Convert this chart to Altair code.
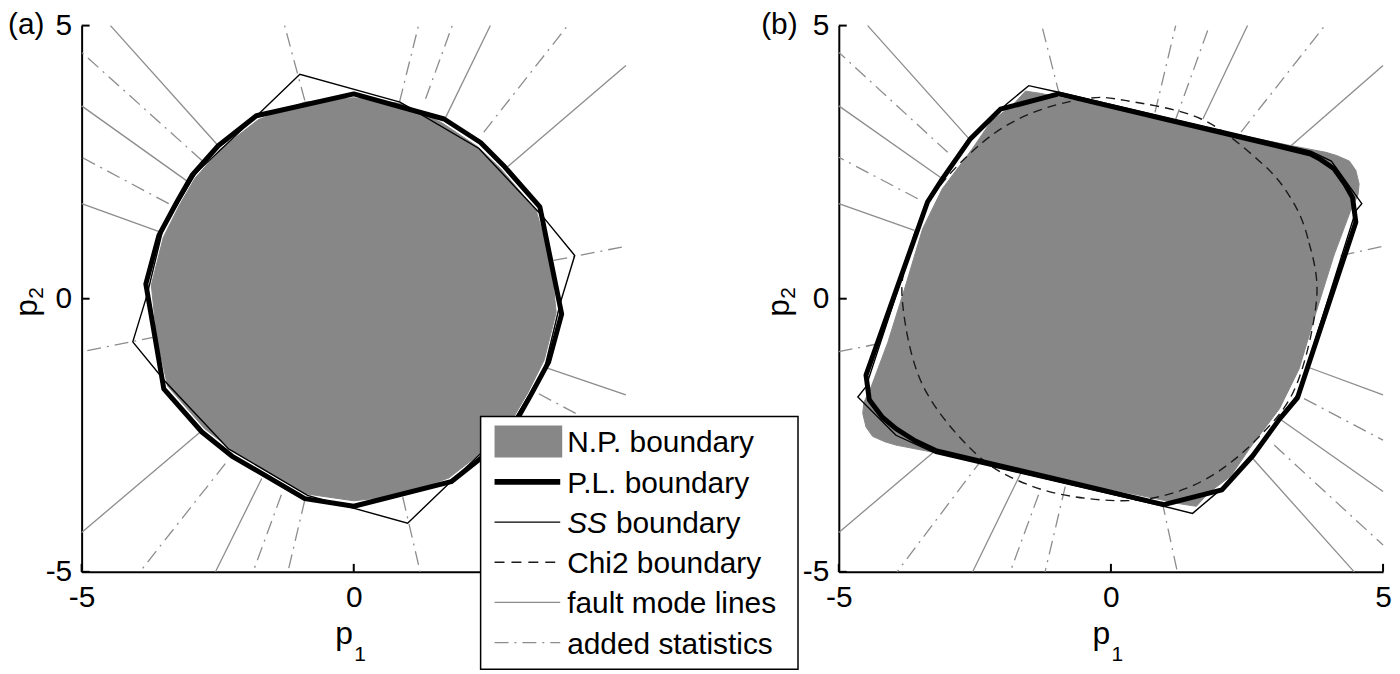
import altair as alt
import pandas as pd

# ------------------------------------------------------------------ data
AXIS_TICKS = [-5, 0, 5]

# fault mode lines (solid grey): outer end, inner end in panel (a) and (b)
FAULT_OUT_X = [-4.47, -5.0, -5.0, 2.51, 5.0, 4.47, 5.0, 5.0, -2.54, -5.0]
FAULT_OUT_Y = [5.0, 3.53, 1.74, 5.0, 4.27, -5.0, -3.53, -1.76, -5.0, -4.28]
FAULT_IN_A_X = [-2.49, -3.03, -3.55, 1.66, 2.82, 2.49, 3.03, 3.53, -1.69, -2.82]
FAULT_IN_A_Y = [2.80, 2.13, 1.22, 3.26, 2.41, -2.80, -2.13, -1.26, -3.29, -2.44]
FAULT_IN_B_X = [-2.61, -3.13, -3.61, 1.69, 3.24, 2.61, 3.13, 3.61, -1.63, -3.25]
FAULT_IN_B_Y = [2.93, 2.22, 1.25, 3.29, 2.74, -2.93, -2.22, -1.25, -3.14, -2.80]

# added statistics (grey dash-dot)
ADDED_OUT_X = [-5.0, -5.0, -5.0, -1.27, 1.19, 1.81, 3.93, 5.0, 1.22, -1.21, -1.85, -3.93, 5.0, 5.0]
ADDED_OUT_Y = [4.51, 2.59, -0.97, 5.0, 5.0, 5.0, 5.0, 0.96, -5.0, -5.0, -5.0, -5.0, -4.51, -2.59]
ADDED_IN_A_X = [-2.79, -3.40, -3.64, -0.90, 0.84, 1.32, 2.39, 3.67, 0.90, -0.90, -1.33, -2.36, 2.79, 3.40]
ADDED_IN_A_Y = [2.53, 1.74, -0.70, 3.63, 3.60, 3.66, 3.05, 0.70, -3.63, -3.69, -3.59, -3.02, -2.53, -1.74]
ADDED_IN_B_X = [-3.00, -3.55, -4.25, -0.94, 0.81, 1.17, 2.39, 4.22, 0.94, -0.84, -1.33, -2.36, 3.00, 3.55]
ADDED_IN_B_Y = [2.68, 1.83, -0.82, 3.71, 3.41, 3.23, 3.05, 0.79, -3.71, -3.44, -3.59, -2.93, -2.68, -1.83]

# panel (a) boundaries
NP_A_X = [0.0, -0.9, -1.75, -2.45, -2.92, -3.2, -3.5, -3.72, -3.62, -3.42, -2.74, -2.2, -0.9, 0.0,
          0.9, 1.75, 2.45, 2.92, 3.2, 3.5, 3.72, 3.62, 3.35, 2.7, 2.28, 1.62, 0.9]
NP_A_Y = [3.68, 3.6, 3.28, 2.74, 2.2, 1.72, 1.12, 0.25, -0.7, -1.6, -2.38, -2.8, -3.57, -3.7,
          -3.6, -3.28, -2.74, -2.2, -1.72, -1.12, -0.25, 0.7, 1.62, 2.38, 2.78, 3.22, 3.57]
PL_A_X = [0.0, -1.79, -2.49, -2.97, -3.25, -3.58, -3.82, -3.49, -2.79, -2.24, -0.90, 0.0,
          1.79, 2.49, 2.97, 3.25, 3.58, 3.82, 3.42, 2.75, 2.33, 1.66]
PL_A_Y = [3.75, 3.35, 2.80, 2.26, 1.77, 1.16, 0.27, -1.65, -2.44, -2.88, -3.66, -3.80,
          -3.35, -2.80, -2.26, -1.77, -1.16, -0.28, 1.68, 2.44, 2.86, 3.29]
SS_A_X = [4.06, 3.46, 2.30, 0.85, -0.99, -1.72, -2.90, -3.50, -3.80,
          -4.06, -3.46, -2.30, -0.85, 0.99, 1.72, 2.90, 3.50, 3.80]
SS_A_Y = [0.79, 1.52, 2.75, 3.60, 4.11, 3.41, 2.30, 1.30, 0.06,
          -0.79, -1.52, -2.75, -3.60, -4.11, -3.41, -2.30, -1.30, -0.06]

# panel (b) boundaries
NP_B_X = [-1.57, -1.8, -2.2, -2.55, -3.10, -3.46, -3.77, -4.1, -4.4, -4.54, -4.56, -4.5, -4.38, -4.15,
          -3.95, -3.22, 1.3, 1.57, 1.8, 2.2, 2.55, 3.10, 3.46, 3.77, 4.1, 4.4, 4.54, 4.56, 4.5, 4.38,
          4.15, 3.95, 3.22, -1.3]
NP_B_Y = [3.80, 3.55, 3.25, 2.74, 2.01, 1.28, 0.25, -0.8, -1.6, -1.9, -2.1, -2.35, -2.52, -2.62,
          -2.68, -2.82, -3.76, -3.80, -3.55, -3.25, -2.74, -2.01, -1.28, -0.25, 0.8, 1.6, 1.9, 2.1,
          2.35, 2.52, 2.62, 2.68, 2.82, 3.76]
PL_B_X = [-0.96, -2.03, -2.58, -3.10, -3.37, -4.50, -4.44, -4.20, -3.95, -3.60, -3.22,
          0.97, 2.04, 2.61, 3.10, 3.43, 4.50, 4.44, 4.30, 4.10, 3.85, 3.67]
PL_B_Y = [3.75, 3.47, 2.93, 2.19, 1.77, -1.40, -1.85, -2.17, -2.38, -2.60, -2.78,
          -3.77, -3.50, -2.87, -2.20, -1.81, 1.40, 1.85, 2.10, 2.38, 2.55, 2.65]
SS_B_X = [-1.51, -1.91, -2.58, -3.15, -3.40, -4.50, -4.65, -3.95, -3.22, 0.97,
          1.50, 1.95, 2.60, 3.15, 3.45, 4.50, 4.61, 4.05, 3.67, -0.96]
SS_B_Y = [3.90, 3.57, 2.95, 2.15, 1.72, -1.61, -1.80, -2.50, -2.83, -3.80,
          -3.93, -3.55, -2.92, -2.15, -1.72, 1.61, 1.74, 2.52, 2.70, 3.78]
CHI2_B_X = [3.78, 3.62, 3.30, 2.75, 1.66, 0.26, -0.48, -1.50, -2.36, -3.25, -3.70, -3.83,
            -3.46, -2.49, -1.51, -0.41, 0.70, 1.75, 2.70, 3.40]
CHI2_B_Y = [0.0, 1.10, 1.85, 2.50, 3.29, 3.63, 3.66, 3.38, 2.86, 1.92, 0.90, -0.06,
            -1.58, -2.83, -3.41, -3.66, -3.66, -3.30, -2.55, -1.60]

LEGEND_LABELS = ["N.P. boundary", "P.L. boundary", "SS", "Chi2 boundary",
                 "fault mode lines", "added statistics"]

# ------------------------------------------------------------------ style / layout
W, H = 547, 549
FONT = "Liberation Sans"
GREY_FILL = "#878787"
GREY_LINE = "#8c8c8c"
DASHDOT = [14, 6, 2, 6]

XS = alt.Scale(domain=[-5, 5], nice=False, zero=False)
YS = alt.Scale(domain=[-5, 5], nice=False, zero=False)

_COMMON_AXIS = dict(values=AXIS_TICKS, title=None, grid=False, ticks=False, tickSize=0,
                    domain=True, domainColor="black", domainWidth=2,
                    labelFontSize=30, labelFont=FONT, labelColor="black",
                    labelFlush=False, labelOverlap=False)

ONE = pd.DataFrame({"k": [0]})


def poly(xs, ys):
    return pd.DataFrame({"x": xs, "y": ys, "i": list(range(len(xs)))})


def rays(ox, oy, ix, iy):
    rows = []
    for k in range(len(ox)):
        rows.append({"id": k, "x": ix[k], "y": iy[k], "i": 0})
        rows.append({"id": k, "x": ox[k], "y": oy[k], "i": 1})
    return pd.DataFrame(rows)


def text(t, x, y, size=30, align="left", baseline="alphabetic", angle=0, style="normal"):
    kw = dict(text=t, font=FONT, fontSize=size, align=align, baseline=baseline,
              color="black", fontStyle=style)
    if angle:
        kw["angle"] = angle
    return alt.Chart(ONE).mark_text(**kw).encode(x=alt.value(x), y=alt.value(y))


def panel(tag, fin_x, fin_y, ain_x, ain_y, np_x, np_y, ss_x, ss_y, pl_x, pl_y,
          chi_x=None, chi_y=None, tag_x=-74, ylab_x=-45, legend=False):
    # in panel (a) the legend box covers the x label "5"
    x_expr = "datum.value == 5 ? '' : datum.value + ''" if legend else "datum.value + ''"
    x_axis = alt.Axis(labelPadding=11, labelExpr=x_expr, **_COMMON_AXIS)
    y_axis = alt.Axis(labelPadding=10, labelExpr="datum.value + ''", **_COMMON_AXIS)

    def xy():
        return dict(x=alt.X("x:Q", scale=XS, axis=x_axis),
                    y=alt.Y("y:Q", scale=YS, axis=y_axis))

    layers = []
    layers.append(alt.Chart(rays(FAULT_OUT_X, FAULT_OUT_Y, fin_x, fin_y))
                  .mark_line(color=GREY_LINE, strokeWidth=1.3)
                  .encode(detail="id:N", order="i:Q", **xy()))
    layers.append(alt.Chart(rays(ADDED_OUT_X, ADDED_OUT_Y, ain_x, ain_y))
                  .mark_line(color=GREY_LINE, strokeWidth=1.3, strokeDash=DASHDOT)
                  .encode(detail="id:N", order="i:Q", **xy()))
    layers.append(alt.Chart(poly(np_x, np_y))
                  .mark_line(fill=GREY_FILL, stroke=GREY_FILL, strokeWidth=1,
                             interpolate="linear-closed")
                  .encode(order="i:Q", **xy()))
    if chi_x is not None:
        layers.append(alt.Chart(poly(chi_x, chi_y))
                      .mark_line(color="#1a1a1a", strokeWidth=1.4, strokeDash=[9, 6],
                                 interpolate="cardinal-closed")
                      .encode(order="i:Q", **xy()))
    layers.append(alt.Chart(poly(ss_x, ss_y))
                  .mark_line(color="black", strokeWidth=1.4, interpolate="linear-closed")
                  .encode(order="i:Q", **xy()))
    layers.append(alt.Chart(poly(pl_x, pl_y))
                  .mark_line(color="black", strokeWidth=5, strokeJoin="round",
                             interpolate="linear-closed")
                  .encode(order="i:Q", **xy()))
    # inward tick marks
    ticks = pd.DataFrame({"x": AXIS_TICKS, "y": AXIS_TICKS})
    layers.append(alt.Chart(ticks).mark_rule(color="black", strokeWidth=2)
                  .encode(x=alt.X("x:Q", scale=XS, axis=x_axis),
                          y=alt.value(H), y2=alt.value(H - 8)))
    layers.append(alt.Chart(ticks).mark_rule(color="black", strokeWidth=2)
                  .encode(y=alt.Y("y:Q", scale=YS, axis=y_axis),
                          x=alt.value(0), x2=alt.value(8)))
    # panel tag and axis titles
    layers.append(text(tag, tag_x, -15.3, baseline="top"))
    layers.append(text("p", 255, 621.7, size=32))
    layers.append(text("1", 274, 639, size=21))
    layers.append(text("p", ylab_x, 292.7, size=32, angle=270))
    layers.append(text("2", ylab_x + 6, 274.5, size=21, angle=270))

    if legend:
        x0, x1, y0, y1 = 401, 720, 393, 647
        rows = [418, 458.6, 499, 539.4, 579.8, 620.2]
        lx0, lx1, tx = 415, 481, 488
        layers.append(alt.Chart(ONE).mark_rect(fill="white", stroke="black", strokeWidth=1.5)
                      .encode(x=alt.value(x0), x2=alt.value(x1), y=alt.value(y0), y2=alt.value(y1)))
        layers.append(alt.Chart(ONE).mark_rect(fill=GREY_FILL)
                      .encode(x=alt.value(lx0), x2=alt.value(lx0 + 68),
                              y=alt.value(rows[0] - 16), y2=alt.value(rows[0] + 16)))
        styles = [
            None,
            dict(color="black", strokeWidth=6),
            dict(color="black", strokeWidth=1.4),
            dict(color="#1a1a1a", strokeWidth=1.4, strokeDash=[10, 7]),
            dict(color=GREY_LINE, strokeWidth=1.3),
            dict(color=GREY_LINE, strokeWidth=1.3, strokeDash=DASHDOT),
        ]
        for r, st in zip(rows, styles):
            if st is None:
                continue
            layers.append(alt.Chart(ONE).mark_rule(**st)
                          .encode(x=alt.value(lx0), x2=alt.value(lx1), y=alt.value(r)))
        for r, lab in zip(rows, LEGEND_LABELS):
            if lab == "SS":
                layers.append(text("SS", tx, r + 11, style="italic"))
                layers.append(text("boundary", tx + 49, r + 11))
            else:
                layers.append(text(lab, tx, r + 11))

    return alt.layer(*layers).properties(width=W, height=H)


panel_a = panel("(a)", FAULT_IN_A_X, FAULT_IN_A_Y, ADDED_IN_A_X, ADDED_IN_A_Y,
                NP_A_X, NP_A_Y, SS_A_X, SS_A_Y, PL_A_X, PL_A_Y,
                tag_x=-74, ylab_x=-45, legend=True)
panel_b = panel("(b)", FAULT_IN_B_X, FAULT_IN_B_Y, ADDED_IN_B_X, ADDED_IN_B_Y,
                NP_B_X, NP_B_Y, SS_B_X, SS_B_Y, PL_B_X, PL_B_Y,
                chi_x=CHI2_B_X, chi_y=CHI2_B_Y, tag_x=-78, ylab_x=-50)

chart = alt.hconcat(panel_a, panel_b, spacing=214, bounds="flush").properties(
    padding=0, background="white"
).configure_view(stroke=None).configure_axis(zindex=0)

chart.save("out.html", embed_options={"renderer": "svg", "actions": False})
